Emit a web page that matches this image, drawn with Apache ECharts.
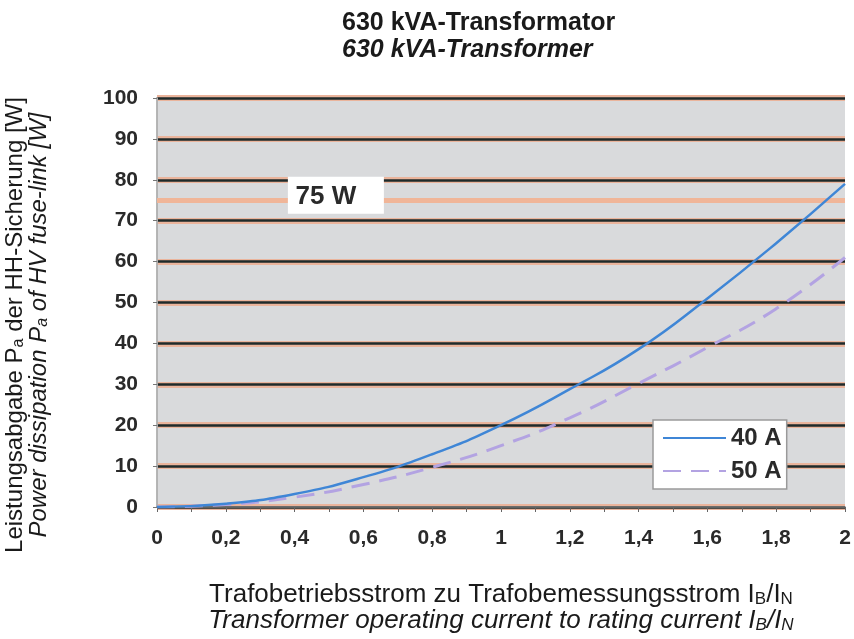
<!DOCTYPE html>
<html>
<head>
<meta charset="utf-8">
<script src="https://cdn.jsdelivr.net/npm/echarts@6/dist/echarts.min.js"></script>
<style>
  html, body { margin: 0; padding: 0; background: #fff; }
  #chart { width: 854px; height: 639px; }
</style>
</head>
<body>
<div id="chart"></div>
<script>
// current ratio IB/IN
const ratio = [0, 0.2, 0.4, 0.6, 0.8, 1.0, 1.2, 1.4, 1.6, 1.8, 2.0]
// power dissipation [W]
const fuse40A = [0, 0.8, 3.2, 7.3, 12.9, 20, 28.8, 38.6, 51, 64.5, 79]
const fuse50A = [0, 0.6, 2.4, 5.5, 9.7, 15, 21.8, 30.2, 39, 48.5, 61]
const limitW = 75
const seriesNames = ['40 A', '50 A']

const chart = echarts.init(document.getElementById('chart'))
const font = '"Liberation Sans", Arial, sans-serif'

const pairs = (ys) => ratio.map((x, i) => [x, ys[i]])

const option = {
  backgroundColor: '#fff',
  animation: false,
  title: {
    left: 337,
    top: 5,
    text: '{a|630 kVA-Transformator}\n{b|630 kVA-Transformer}',
    textStyle: {
      rich: {
        a: { fontFamily: font, fontSize: 25, fontWeight: 'bold', color: '#1a1a1a', lineHeight: 27 },
        b: { fontFamily: font, fontSize: 25, fontWeight: 'bold', fontStyle: 'italic', color: '#1a1a1a', lineHeight: 27 }
      }
    }
  },
  grid: {
    left: 157, right: 9, top: 98, bottom: 129,
    show: true, backgroundColor: '#d9dadc', borderWidth: 0
  },
  legend: {
    orient: 'vertical',
    left: 653, top: 420,
    backgroundColor: '#fff',
    borderColor: '#9a9a9a', borderWidth: 1.5,
    padding: [6, 5, 6, 9],
    itemGap: 9,
    itemWidth: 63, itemHeight: 14,
    itemStyle: { opacity: 0 },
    textStyle: { fontFamily: font, fontWeight: 'bold', fontSize: 24, color: '#2a2a2a', lineHeight: 24 },
    data: seriesNames
  },
  xAxis: {
    type: 'value',
    min: 0, max: 2, interval: 0.2,
    axisLine: { lineStyle: { color: '#777', width: 1.5 } },
    axisTick: { length: 5, lineStyle: { color: '#666' } },
    minorTick: { show: true, splitNumber: 2, length: 5, lineStyle: { color: '#666' } },
    splitLine: { show: false },
    axisLabel: {
      fontFamily: font, fontWeight: 'bold', fontSize: 21, color: '#2a2a2a', margin: 21,
      formatter: (v) => String(Math.round(v * 10) / 10).replace('.', ',')
    },
    name: '{n|Trafobetriebsstrom zu Trafobemessungsstrom I}{s|B}{n|/I}{s|N}\n{i|Transformer operating current to rating current I}{is|B}{i|/I}{is|N}',
    nameLocation: 'middle',
    nameGap: 75,
    nameTextStyle: {
      align: 'center',
      rich: {
        n: { fontFamily: font, fontSize: 26, color: '#1a1a1a', lineHeight: 26 },
        s: { fontFamily: font, fontSize: 17, color: '#1a1a1a', lineHeight: 26, verticalAlign: 'bottom' },
        i: { fontFamily: font, fontSize: 26, fontStyle: 'italic', color: '#1a1a1a', lineHeight: 26 },
        is: { fontFamily: font, fontSize: 17, fontStyle: 'italic', color: '#1a1a1a', lineHeight: 26, verticalAlign: 'bottom' }
      }
    }
  },
  yAxis: [
    {
      // halo under the grid lines + right border
      type: 'value', position: 'right',
      min: 0, max: 100, interval: 10,
      axisLine: { show: true, lineStyle: { color: '#555', width: 1.5 } },
      axisTick: { show: false },
      axisLabel: { show: false },
      splitLine: { lineStyle: { color: '#eab49c', width: 6 } }
    },
    {
      type: 'value', position: 'left',
      min: 0, max: 100, interval: 10,
      axisLine: { show: true, lineStyle: { color: '#c8c8c8', width: 1.5 } },
      axisTick: { show: true, length: 4, lineStyle: { color: '#777' } },
      axisLabel: { fontFamily: font, fontWeight: 'bold', fontSize: 21, color: '#2a2a2a', margin: 19 },
      splitLine: { lineStyle: { color: '#1e2a2a', width: 2.5 } }
    }
  ],
  graphic: [
    {
      type: 'text',
      x: 27, y: 325,
      rotation: Math.PI / 2,
      style: {
        text: '{n|Leistungsabgabe P}{s|a}{n| der HH-Sicherung [W]}\n{i|Power dissipation P}{is|a}{i| of HV fuse-link [W]}',
        align: 'center',
        verticalAlign: 'middle',
        rich: {
          n: { fontFamily: font, fontSize: 24, fill: '#1a1a1a', lineHeight: 24 },
          s: { fontFamily: font, fontSize: 16, fill: '#1a1a1a', lineHeight: 24, verticalAlign: 'bottom' },
          i: { fontFamily: font, fontSize: 24, fontStyle: 'italic', fill: '#1a1a1a', lineHeight: 24 },
          is: { fontFamily: font, fontSize: 16, fontStyle: 'italic', fill: '#1a1a1a', lineHeight: 24, verticalAlign: 'bottom' }
        }
      }
    }
  ],
  series: [
    {
      name: seriesNames[0],
      type: 'line',
      yAxisIndex: 1,
      smooth: true,
      symbol: 'none',
      data: pairs(fuse40A),
      lineStyle: { color: '#3f86d6', width: 2.5 },
      itemStyle: { color: '#3f86d6' },
      z: 4,
      markLine: {
        silent: true,
        symbol: 'none',
        label: { show: false },
        lineStyle: { color: '#f0b598', width: 5, type: 'solid' },
        data: [{ yAxis: limitW }],
        z: 1
      },
      markPoint: {
        silent: true,
        symbol: 'rect',
        symbolSize: [96, 37],
        itemStyle: { color: '#ffffff' },
        label: {
          show: true, formatter: limitW + ' W',
          fontFamily: font, fontWeight: 'bold', fontSize: 26, color: '#2a2a2a', offset: [-10, 1]
        },
        data: [{ coord: [0.52, 76.2] }]
      }
    },
    {
      name: seriesNames[1],
      type: 'line',
      yAxisIndex: 1,
      smooth: true,
      symbol: 'none',
      data: pairs(fuse50A),
      lineStyle: { color: '#b3a3e2', width: 3, type: [18, 10] },
      itemStyle: { color: '#b3a3e2' },
      z: 3
    }
  ]
}

chart.setOption(option)
</script>
</body>
</html>
